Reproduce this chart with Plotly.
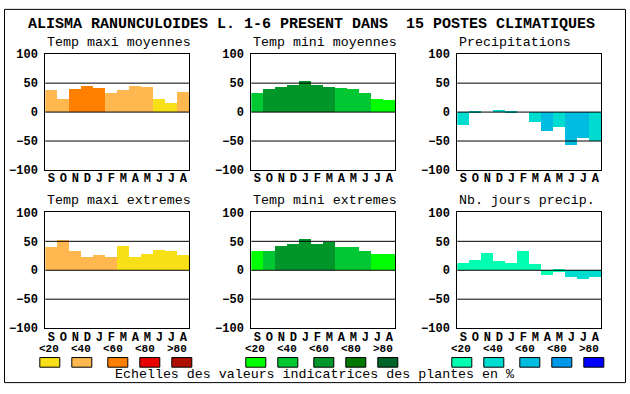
import plotly.graph_objects as go

W, H = 630, 394

months = ["S", "O", "N", "D", "J", "F", "M", "A", "M", "J", "J", "A"]
scale_labels = ["<20", "<40", "<60", "<80", ">80"]

pal_temp_max = ["#F8E018", "#FFB850", "#FF8000", "#E80000", "#B01000"]
pal_temp_min = ["#00FF00", "#00C832", "#00962A", "#007800", "#006428"]
pal_precip = ["#00FFB0", "#00DCD0", "#00BCE0", "#0098E8", "#0000FF"]

tmax_moy = [37, 22, 40, 45, 42, 33, 37, 45, 43, 22, 15, 35]
tmax_moy_cls = [1, 1, 2, 2, 2, 1, 1, 1, 1, 0, 0, 1]
tmin_moy = [33, 40, 43, 47, 53, 47, 43, 42, 40, 32, 22, 20]
tmin_moy_cls = [1, 2, 2, 2, 2, 2, 2, 1, 1, 1, 0, 0]
precip = [-23, -2, 0, 2, -2, 0, -17, -33, -27, -58, -45, -50]
precip_cls = [1, 1, 1, 1, 1, 1, 1, 2, 1, 2, 2, 1]
tmax_ext = [40, 52, 32, 23, 25, 22, 42, 22, 27, 35, 32, 25]
tmax_ext_cls = [1, 1, 1, 1, 1, 1, 0, 0, 0, 0, 0, 0]
tmin_ext = [33, 33, 42, 45, 53, 45, 48, 40, 40, 33, 27, 27]
tmin_ext_cls = [0, 1, 2, 2, 2, 2, 2, 1, 1, 1, 0, 0]
nb_jours = [12, 17, 30, 15, 12, 33, 10, -8, -3, -13, -15, -13]
nb_jours_cls = [0, 0, 0, 0, 0, 0, 0, 0, 0, 1, 1, 1]

panels = [
    ("Temp maxi moyennes", tmax_moy, tmax_moy_cls, pal_temp_max),
    ("Temp mini moyennes", tmin_moy, tmin_moy_cls, pal_temp_min),
    ("Precipitations", precip, precip_cls, pal_precip),
    ("Temp maxi extremes", tmax_ext, tmax_ext_cls, pal_temp_max),
    ("Temp mini extremes", tmin_ext, tmin_ext_cls, pal_temp_min),
    ("Nb. jours precip.", nb_jours, nb_jours_cls, pal_precip),
]

col_left = [45.3, 251.3, 457.3]
plot_w = 144
row_top = [50, 214]
plot_h = 120

MONO = "Liberation Mono, DejaVu Sans Mono, monospace"

fig = go.Figure()
layout = dict(
    width=W, height=H,
    margin=dict(l=0, r=0, t=0, b=0),
    paper_bgcolor="white", plot_bgcolor="white",
    showlegend=False, bargap=0,
)
shapes = []
annotations = []
xpos = list(range(len(months)))

for i, (title, vals, cls, pal) in enumerate(panels):
    r, c = divmod(i, 3)
    n = "" if i == 0 else str(i + 1)
    xa, ya = "x" + n, "y" + n
    fig.add_trace(go.Bar(
        x=xpos, y=vals, marker=dict(color=[pal[k] for k in cls], line=dict(width=0)),
        width=1, xaxis=xa, yaxis=ya, hoverinfo="skip",
    ))
    x0 = col_left[c] / W
    x1 = (col_left[c] + plot_w) / W
    y1 = 1 - row_top[r] / H
    y0 = 1 - (row_top[r] + plot_h) / H
    layout["xaxis" + n] = dict(
        domain=[x0, x1], anchor=ya, range=[-0.5, 11.5],
        tickmode="array", tickvals=xpos, ticktext=months,
        tickfont=dict(family=MONO, size=12, color="black", weight="bold"),
        showgrid=False, zeroline=False, showline=True, linecolor="black",
        linewidth=1, mirror=True, ticks="", fixedrange=True,
        ticklabelstandoff=-3,
    )
    layout["yaxis" + n] = dict(
        domain=[y0, y1], anchor=xa, range=[-100, 100],
        tickmode="array", tickvals=[-100, -50, 0, 50, 100],
        tickfont=dict(family=MONO, size=12, color="black", weight="bold"),
        showgrid=False, zeroline=False, showline=True, linecolor="black",
        linewidth=1, mirror=True, ticks="", fixedrange=True,
        ticklabelstandoff=4,
    )
    for gv in [-50, 0, 50]:
        shapes.append(dict(
            type="line", xref=xa + " domain", yref=ya, x0=0, x1=1, y0=gv, y1=gv,
            line=dict(color="black", width=1), layer="above",
        ))
    annotations.append(dict(
        text=title, xref="paper", yref="paper", x=x0, y=y1 + 12 / H,
        xanchor="left", yanchor="middle", showarrow=False,
        font=dict(family=MONO, size=13.3, color="black"),
    ))

# outer frame
shapes.append(dict(type="rect", xref="paper", yref="paper",
                   x0=4.5 / W, x1=625.5 / W, y0=1 - 390.5 / H, y1=1 - 3.5 / H,
                   line=dict(color="black", width=1), fillcolor="rgba(0,0,0,0)", layer="above"))

# main title
annotations.append(dict(
    text="ALISMA RANUNCULOIDES L. 1-6 PRESENT DANS  15 POSTES CLIMATIQUES",
    xref="paper", yref="paper", x=311 / W, y=1 - 19 / H, xanchor="center", yanchor="middle",
    showarrow=False, font=dict(family=MONO, size=15, color="black", weight="bold"),
))

# legend scales
label_off = [0, 32, 64, 96, 128]
swatch_off = [0, 32, 68, 100, 132]
for c, pal in enumerate([pal_temp_max, pal_temp_min, pal_precip]):
    g = col_left[c] - 6
    for k in range(5):
        annotations.append(dict(
            text=scale_labels[k], xref="paper", yref="paper",
            x=(g + label_off[k] + 10) / W, y=1 - 355.5 / H,
            xanchor="center", yanchor="middle", showarrow=False,
            font=dict(family=MONO, size=11, color="black", weight="bold"),
        ))
        sx = g + swatch_off[k]
        shapes.append(dict(
            type="rect", xref="paper", yref="paper",
            x0=(sx + 0.5) / W, x1=(sx + 20.5) / W, y0=1 - 374.5 / H, y1=1 - 364.5 / H,
            fillcolor=pal[k], line=dict(color="black", width=1),
        ))

annotations.append(dict(
    text="Echelles des valeurs indicatrices des plantes en %",
    xref="paper", yref="paper", x=314 / W, y=1 - 382 / H, xanchor="center", yanchor="middle",
    showarrow=False, font=dict(family=MONO, size=13.3, color="black"),
))

layout["shapes"] = shapes
layout["annotations"] = annotations
fig.update_layout(**layout)

post = (
    "var de=document.documentElement, b=document.body;"
    "de.style.margin='0';de.style.padding='0';de.style.overflow='hidden';"
    "b.style.margin='0';b.style.padding='0';b.style.overflow='hidden';"
)
fig.write_html(
    "out.html",
    config={"displayModeBar": False, "responsive": False},
    post_script=post,
)
